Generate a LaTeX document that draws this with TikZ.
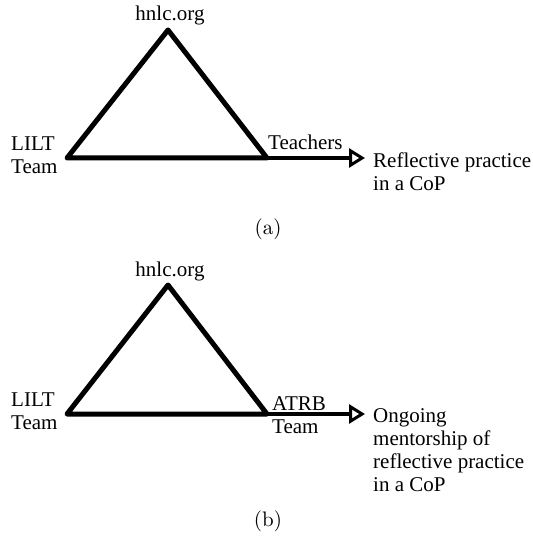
\documentclass[tikz,border=0pt]{standalone}
\usepackage{fontspec}
\newfontfamily\tnr{Liberation Serif}
\newfontfamily\lmten{lmroman10-regular}[Extension=.otf]
\usetikzlibrary{arrows.meta}
\begin{document}
\begin{tikzpicture}[x=1pt,y=-1pt,
  lbl/.style={font=\tnr\fontsize{21}{23}\selectfont, inner sep=0pt, align=left},
  capt/.style={font=\lmten\fontsize{21}{24}\selectfont, inner sep=0pt},
  tri/.style={line width=5pt, line join=round},
  arr/.style={line width=3.8pt, -{Triangle[open, length=16pt, width=19pt, line width=3pt]}}]
\useasboundingbox (0,0) rectangle (532,545);
% ---- (a)
\coordinate (A1) at (168,30);
\coordinate (L1) at (67,158);
\coordinate (R1) at (267,158);
\coordinate (T1) at (365,158);
\draw[tri] (A1) -- (L1) -- (R1) -- cycle;
\draw[arr] (R1) -- (T1);
\node[lbl, anchor=base] (org1) at (170,21) {hnlc.org};
\node[lbl, anchor=base west] (lilt1) at (11,174) {LILT\\Team};
\node[lbl, anchor=base west] (teach) at (268,150) {Teachers};
\node[lbl, anchor=base west] (refl) at (373,191) {Reflective practice\\in a CoP};
\node[capt] (capa) at (268,229) {(a)};
% ---- (b)
\coordinate (A2) at (168,285);
\coordinate (L2) at (67,414);
\coordinate (R2) at (267,414);
\coordinate (T2) at (365,414);
\draw[tri] (A2) -- (L2) -- (R2) -- cycle;
\draw[arr] (R2) -- (T2);
\node[lbl, anchor=base] (org2) at (170,276) {hnlc.org};
\node[lbl, anchor=base west] (lilt2) at (11,429) {LILT\\Team};
\node[lbl, anchor=base west] (atrb) at (272,433) {ATRB\\Team};
\node[lbl, anchor=base west] (ong) at (373,491) {Ongoing\\mentorship of\\reflective practice\\in a CoP};
\node[capt] (capb) at (268,521) {(b)};
\end{tikzpicture}
\end{document}
